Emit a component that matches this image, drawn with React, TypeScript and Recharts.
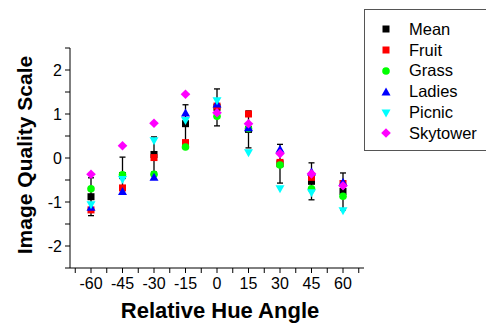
import React from 'react';
import { ScatterChart, Scatter, XAxis, YAxis, ErrorBar } from 'recharts';

const angles = [-60, -45, -30, -15, 0, 15, 30, 45, 60];
const meanVals = [-0.88, -0.40, 0.08, 0.78, 1.15, 0.65, -0.13, -0.53, -0.76];
const meanErr = [0.43, 0.42, 0.40, 0.43, 0.42, 0.42, 0.44, 0.42, 0.42];
const fruitVals = [-1.18, -0.68, 0.01, 0.35, 1.18, 1.00, -0.10, -0.44, -0.58];
const grassVals = [-0.70, -0.38, -0.37, 0.25, 0.95, 0.67, -0.16, -0.70, -0.87];
const ladiesVals = [-1.12, -0.76, -0.44, 1.02, 1.23, 0.69, 0.20, -0.32, -0.55];
const picnicVals = [-1.06, -0.49, 0.39, 0.85, 1.30, 0.12, -0.70, -0.79, -1.20];
const skytowerVals = [-0.37, 0.28, 0.79, 1.45, 1.03, 0.78, 0.10, -0.36, -0.63];

const xTicks = [-67.5, -60, -52.5, -45, -37.5, -30, -22.5, -15, -7.5, 0, 7.5, 15, 22.5, 30, 37.5, 45, 52.5, 60, 67.5];
const yTicks = [-2.5, -2, -1.5, -1, -0.5, 0, 0.5, 1, 1.5, 2, 2.5];
const xLabelTicks = [-60, -45, -30, -15, 0, 15, 30, 45, 60];
const yLabelTicks = [-2, -1, 0, 1, 2];

const FONT = '"Liberation Sans", Arial, Helvetica, sans-serif';

const toPoints = (vals: number[], err?: number[]) =>
  angles.map((a, i) => (err ? { x: a, y: vals[i], err: err[i] } : { x: a, y: vals[i] }));

type ShapeKind = 'square' | 'circle' | 'up' | 'down' | 'diamond';

const Marker = ({ kind, cx, cy, fill }: { kind: ShapeKind; cx: number; cy: number; fill: string }) => {
  if (kind === 'square') return <rect x={cx - 3.5} y={cy - 3.5} width={7} height={7} fill={fill} />;
  if (kind === 'circle') return <circle cx={cx} cy={cy} r={3.8} fill={fill} />;
  if (kind === 'up')
    return <polygon points={`${cx},${cy - 4.5} ${cx + 4.5},${cy + 3.5} ${cx - 4.5},${cy + 3.5}`} fill={fill} />;
  if (kind === 'down')
    return <polygon points={`${cx},${cy + 4.5} ${cx + 4.5},${cy - 3.5} ${cx - 4.5},${cy - 3.5}`} fill={fill} />;
  return <polygon points={`${cx},${cy - 4.8} ${cx + 4.8},${cy} ${cx},${cy + 4.8} ${cx - 4.8},${cy}`} fill={fill} />;
};

const series: { name: string; vals: number[]; color: string; kind: ShapeKind }[] = [
  { name: 'Mean', vals: meanVals, color: '#000000', kind: 'square' },
  { name: 'Fruit', vals: fruitVals, color: '#ff0000', kind: 'square' },
  { name: 'Grass', vals: grassVals, color: '#00ff00', kind: 'circle' },
  { name: 'Ladies', vals: ladiesVals, color: '#0000ff', kind: 'up' },
  { name: 'Picnic', vals: picnicVals, color: '#00ffff', kind: 'down' },
  { name: 'Skytower', vals: skytowerVals, color: '#ff00ff', kind: 'diamond' },
];

const XTick = (p: any) => {
  const v = p.payload.value;
  if (!xLabelTicks.includes(v)) return <g />;
  return (
    <text x={p.x} y={p.y} dy="0.75em" textAnchor="middle" fontSize={16} fontFamily={FONT} fill="#000">
      {String(v)}
    </text>
  );
};

const YTick = (p: any) => {
  const v = p.payload.value;
  if (!yLabelTicks.includes(v)) return <g />;
  return (
    <text x={p.x} y={p.y} dy="0.36em" textAnchor="end" fontSize={16} fontFamily={FONT} fill="#000">
      {String(v)}
    </text>
  );
};

export default function App() {
  return (
    <div style={{ position: 'absolute', left: 0, top: 0, width: 486, height: 324, background: '#fff' }}>
      <ScatterChart width={486} height={324} margin={{ top: 48, right: 122, bottom: 0, left: 0 }}>
        <XAxis
          type="number"
          dataKey="x"
          domain={[-70, 70]}
          ticks={xTicks}
          interval={0}
          tick={<XTick />}
          tickSize={5}
          tickMargin={4}
          height={56}
          stroke="#000"
          allowDataOverflow
        />
        <YAxis
          type="number"
          dataKey="y"
          domain={[-2.5, 2.5]}
          ticks={yTicks}
          interval={0}
          tick={<YTick />}
          tickSize={5}
          tickMargin={3}
          width={70}
          stroke="#000"
          allowDataOverflow
        />
        {series.map((s, idx) => (
          <Scatter
            key={s.name}
            name={s.name}
            data={toPoints(s.vals, idx === 0 ? meanErr : undefined)}
            fill={s.color}
            isAnimationActive={false}
            shape={(props: any) => <Marker kind={s.kind} cx={props.cx} cy={props.cy} fill={s.color} />}
          >
            {idx === 0 && (
              <ErrorBar dataKey="err" direction="y" width={3} stroke="#000" strokeWidth={1.3} isAnimationActive={false} />
            )}
          </Scatter>
        ))}
        <text
          x={24}
          y={155}
          transform="rotate(-90 24 155)"
          textAnchor="middle"
          dominantBaseline="central"
          fontSize={21}
          fontWeight="bold"
          fontFamily={FONT}
          fill="#000"
        >
          Image Quality Scale
        </text>
        <text x={220} y={318} textAnchor="middle" fontSize={22} fontWeight="bold" fontFamily={FONT} fill="#000">
          Relative Hue Angle
        </text>
      </ScatterChart>
      <div
        style={{
          position: 'absolute',
          left: 364,
          top: 9,
          width: 130,
          height: 142,
          border: '1px solid #555',
          boxSizing: 'border-box',
          fontFamily: FONT,
          fontSize: 16.5,
          color: '#000',
          paddingTop: 9,
        }}
      >
        {series.map((s) => (
          <div key={s.name} style={{ display: 'flex', alignItems: 'center', height: 20.8 }}>
            <svg width={12} height={12} style={{ marginLeft: 15, marginRight: 17, flex: 'none' }}>
              <Marker kind={s.kind} cx={6} cy={6} fill={s.color} />
            </svg>
            <span>{s.name}</span>
          </div>
        ))}
      </div>
    </div>
  );
}
